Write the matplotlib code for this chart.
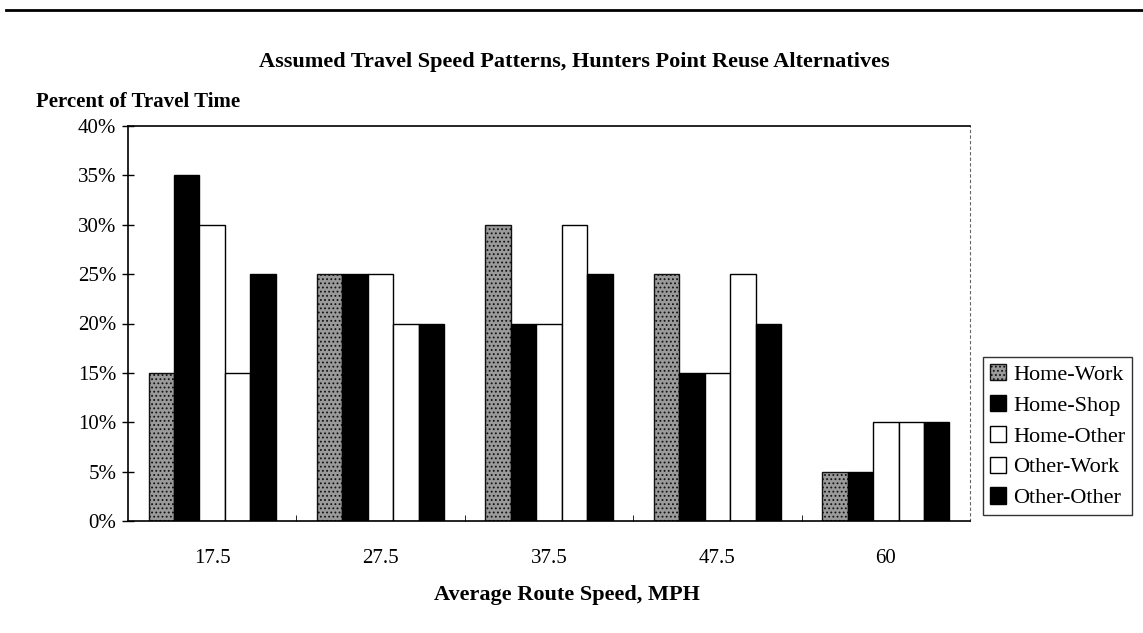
import matplotlib
matplotlib.use("Agg")
import matplotlib.pyplot as plt
from matplotlib.lines import Line2D
import numpy as np

# data
speeds = ["17.5", "27.5", "37.5", "47.5", "60"]
home_work = [15, 25, 30, 25, 5]
home_shop = [35, 25, 20, 15, 5]
home_other = [30, 25, 20, 15, 10]
other_work = [15, 20, 30, 25, 10]
other_other = [25, 20, 25, 20, 10]

series = [
    ("Home-Work", home_work),
    ("Home-Shop", home_shop),
    ("Home-Other", home_other),
    ("Other-Work", other_work),
    ("Other-Other", other_other),
]

plt.rcParams["font.family"] = ["Liberation Serif", "DejaVu Serif"]
plt.rcParams["hatch.linewidth"] = 0.8

fig = plt.figure(figsize=(11.43, 6.33), dpi=100)
ax = fig.add_axes([128 / 1143, 1 - 521 / 633, 842 / 1143, 395 / 633])

styles = [
    dict(facecolor="#9a9a9a", hatch="....", edgecolor="#111111"),
    dict(facecolor="black", edgecolor="black"),
    dict(facecolor="white", edgecolor="black"),
    dict(facecolor="white", edgecolor="black"),
    dict(facecolor="black", edgecolor="black"),
]

x = np.arange(len(speeds))
width = 0.151
for i, ((name, vals), st) in enumerate(zip(series, styles)):
    ax.bar(x + (i - 2) * width, vals, width, label=name, linewidth=1.0, **st)

ax.set_xlim(-0.5, len(speeds) - 0.5)
ax.set_ylim(0, 40)
ax.set_yticks(range(0, 41, 5))
ax.set_yticklabels([f"{v}%" for v in range(0, 41, 5)], fontsize=15)
ax.set_xticks(x)
ax.set_xticklabels(speeds, fontsize=15)
ax.tick_params(axis="x", length=0, pad=20)
ax.tick_params(axis="y", direction="inout", length=9, width=1.0, pad=4)
ax.set_xticks(np.arange(0.5, len(speeds) - 0.5, 1.0), minor=True)
ax.tick_params(axis="x", which="minor", direction="in", length=4)

for s in ["left", "bottom", "top"]:
    ax.spines[s].set_color("black")
    ax.spines[s].set_linewidth(1.2)
ax.spines["right"].set_linestyle((0, (2, 3)))
ax.spines["right"].set_color("#666666")
ax.spines["right"].set_linewidth(0.8)

fig.text(574 / 1143, 1 - 62 / 633, "Assumed Travel Speed Patterns, Hunters Point Reuse Alternatives",
         ha="center", va="center", fontsize=16, fontweight="bold")
fig.text(36 / 1143, 1 - 102 / 633, "Percent of Travel Time",
         ha="left", va="center", fontsize=15, fontweight="bold")
fig.text(567 / 1143, 1 - 595 / 633, "Average Route Speed, MPH",
         ha="center", va="center", fontsize=16, fontweight="bold")

# rule across the top of the page
fig.add_artist(Line2D([0.005, 1.0], [1 - 10 / 633] * 2, color="black", linewidth=2))

leg = ax.legend(loc="lower left", bbox_to_anchor=(983 / 1143, 1 - 515 / 633),
                bbox_transform=fig.transFigure, fontsize=16, frameon=True,
                fancybox=False, handlelength=0.75, handleheight=0.75,
                handletextpad=0.3, labelspacing=0.45, borderpad=0.3,
                borderaxespad=0)
leg.get_frame().set_edgecolor("black")
leg.get_frame().set_linewidth(1.0)

fig.savefig("out.png", dpi=100)
